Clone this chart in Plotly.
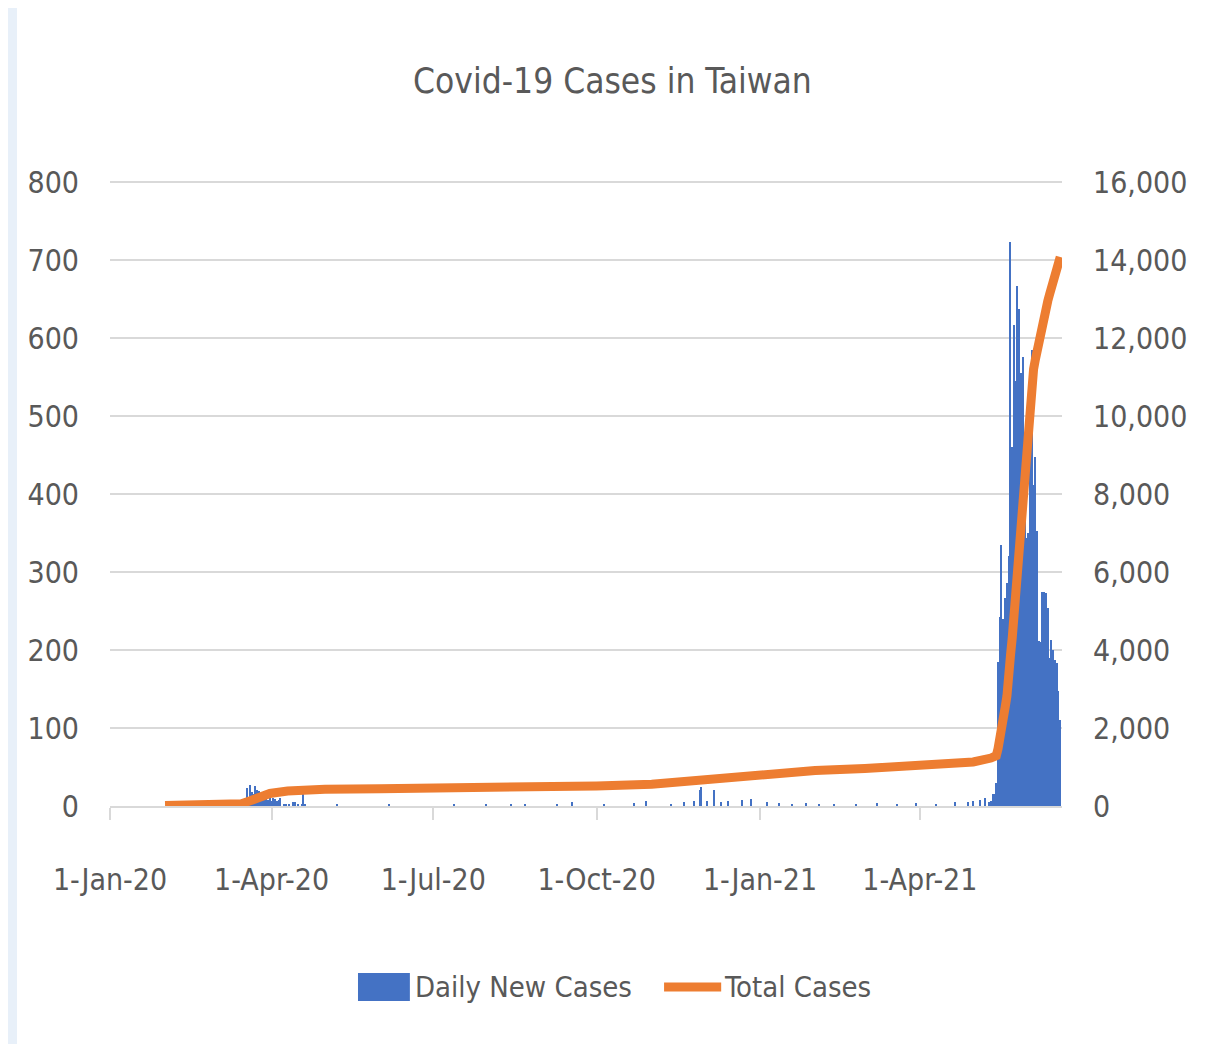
import plotly.graph_objects as go

# Daily new cases (sparse: days with no visible bar are left out)
daily_dates = [
    '2020-02-06', '2020-02-09', '2020-02-16', '2020-02-20', '2020-02-28', '2020-03-02', '2020-03-09',
    '2020-03-13', '2020-03-14', '2020-03-15', '2020-03-16', '2020-03-17', '2020-03-18', '2020-03-19',
    '2020-03-20', '2020-03-21', '2020-03-22', '2020-03-23', '2020-03-24', '2020-03-25', '2020-03-26',
    '2020-03-27', '2020-03-28', '2020-03-29', '2020-03-30', '2020-03-31', '2020-04-01', '2020-04-02',
    '2020-04-03', '2020-04-04', '2020-04-05', '2020-04-06', '2020-04-08', '2020-04-09', '2020-04-11',
    '2020-04-13', '2020-04-14', '2020-04-16', '2020-04-18', '2020-04-19', '2020-04-20', '2020-05-08',
    '2020-06-06', '2020-07-13', '2020-07-31', '2020-08-14', '2020-08-22', '2020-09-09', '2020-09-17',
    '2020-10-05', '2020-10-22', '2020-10-29', '2020-11-12', '2020-11-19', '2020-11-25', '2020-11-28',
    '2020-11-29', '2020-12-02', '2020-12-06', '2020-12-10', '2020-12-14', '2020-12-22', '2020-12-27',
    '2021-01-05', '2021-01-12', '2021-01-19', '2021-01-27', '2021-02-03', '2021-02-12', '2021-02-24',
    '2021-03-08', '2021-03-19', '2021-03-30', '2021-04-10', '2021-04-21', '2021-04-28', '2021-05-01',
    '2021-05-05', '2021-05-08', '2021-05-10', '2021-05-11', '2021-05-12', '2021-05-13', '2021-05-14',
    '2021-05-15', '2021-05-16', '2021-05-17', '2021-05-18', '2021-05-19', '2021-05-20', '2021-05-21',
    '2021-05-22', '2021-05-23', '2021-05-24', '2021-05-25', '2021-05-26', '2021-05-27', '2021-05-28',
    '2021-05-29', '2021-05-30', '2021-05-31', '2021-06-01', '2021-06-02', '2021-06-03', '2021-06-04',
    '2021-06-05', '2021-06-06', '2021-06-07', '2021-06-08', '2021-06-09', '2021-06-10', '2021-06-11',
    '2021-06-12', '2021-06-13', '2021-06-14', '2021-06-15', '2021-06-16', '2021-06-17', '2021-06-18',
    '2021-06-19',
]
daily_new = [
    5, 1, 2, 2, 2, 1, 2,
    3, 3, 6, 8, 10, 23, 8,
    27, 18, 16, 26, 20, 19, 17,
    15, 15, 15, 8, 16, 7, 10,
    9, 7, 8, 10, 3, 3, 3,
    5, 5, 3, 3, 22, 2, 2,
    2, 2, 3, 2, 2, 2, 5,
    3, 4, 6, 3, 5, 7, 20,
    24, 6, 21, 5, 7, 8, 9,
    5, 4, 3, 4, 3, 2, 3,
    4, 3, 4, 3, 5, 5, 6,
    8, 10, 5, 7, 16, 16, 29,
    185, 242, 335, 240, 267, 286, 321,
    723, 460, 617, 545, 667, 637, 555,
    576, 454, 343, 350, 472, 585, 411,
    448, 353, 212, 210, 274, 275, 273,
    254, 190, 213, 200, 187, 183, 147,
    110,
]

# Cumulative total cases
total_dates = [
    '2020-02-01', '2020-02-15', '2020-03-01', '2020-03-15', '2020-03-20', '2020-03-25', '2020-03-31',
    '2020-04-10', '2020-04-20', '2020-05-01', '2020-06-01', '2020-07-01', '2020-08-01', '2020-09-01',
    '2020-10-01', '2020-11-01', '2020-12-01', '2021-01-01', '2021-02-01', '2021-03-01', '2021-04-01',
    '2021-05-01', '2021-05-11', '2021-05-14', '2021-05-15', '2021-05-16', '2021-05-17', '2021-05-18',
    '2021-05-19', '2021-05-20', '2021-05-21', '2021-05-22', '2021-05-23', '2021-05-24', '2021-05-25',
    '2021-05-26', '2021-05-27', '2021-05-28', '2021-05-29', '2021-05-30', '2021-05-31', '2021-06-01',
    '2021-06-02', '2021-06-03', '2021-06-04', '2021-06-05', '2021-06-06', '2021-06-07', '2021-06-08',
    '2021-06-09', '2021-06-10', '2021-06-11', '2021-06-12', '2021-06-13', '2021-06-14', '2021-06-15',
    '2021-06-16', '2021-06-17', '2021-06-18', '2021-06-19',
]
total_cases = [
    10, 20, 40, 59, 135, 235, 322,
    382, 422, 429, 443, 449, 476, 488,
    514, 560, 680, 800, 910, 960, 1030,
    1130, 1230, 1290, 1475, 1680, 2020, 2260,
    2530, 2820, 3140, 3860, 4320, 4920, 5460,
    6090, 6760, 7320, 8100, 8800, 9500, 10000,
    10450, 10900, 11200, 11450, 11700, 11950, 12150,
    12350, 12550, 12750, 12950, 13120, 13300, 13480,
    13650, 13800, 13950, 14075,
]

tick_dates = ['2020-01-01', '2020-04-01', '2020-07-01', '2020-10-01', '2021-01-01', '2021-04-01']

FONT = 'DejaVu Sans Condensed, Liberation Sans Narrow, sans-serif'
TXT = '#595959'
GRID = '#d9d9d9'
BLUE = '#4472c4'
ORANGE = '#ed7d31'

fig = go.Figure()
fig.add_trace(go.Bar(
    x=daily_dates, y=daily_new, name='Daily New Cases',
    marker=dict(color=BLUE, line=dict(width=0)),
    width=86400000 * 0.75,
))
fig.add_trace(go.Scatter(
    x=total_dates, y=total_cases, name='Total Cases', yaxis='y2',
    mode='lines', line=dict(color=ORANGE, width=9),
))

# legend drawn by hand (big Excel-style swatches)
legend_shapes = [
    dict(type='rect', xref='paper', yref='paper', x0=0.2605, x1=0.315, y0=-0.3125, y1=-0.2676,
         fillcolor=BLUE, line=dict(width=0)),
    dict(type='line', xref='paper', yref='paper', x0=0.582, x1=0.642, y0=-0.290, y1=-0.290,
         line=dict(color=ORANGE, width=9)),
]
legend_text = [
    dict(text='Daily New Cases', xref='paper', yref='paper', x=0.318, y=-0.290,
         xanchor='left', yanchor='middle', showarrow=False, font=dict(size=29, color=TXT)),
    dict(text='Total Cases', xref='paper', yref='paper', x=0.643, y=-0.290,
         xanchor='left', yanchor='middle', showarrow=False, font=dict(size=29, color=TXT)),
]

# plotly drops the gridline sitting on the top edge, so draw it
top_grid = dict(type='line', xref='paper', yref='paper', layer='below',
                x0=0, x1=1, y0=1, y1=1, line=dict(color=GRID, width=2))

# page has an 8px body margin: plot area 102..1054 x 174..798 in figure pixels
fig.update_layout(
    width=1197, height=1036,
    margin=dict(l=102, r=143, t=174, b=238),
    paper_bgcolor='#e8f0f9', plot_bgcolor='white',
    font=dict(family=FONT, color=TXT, size=30),
    title=dict(text='Covid-19 Cases in Taiwan', x=0.505, xanchor='center',
               y=0.93, yanchor='middle', font=dict(size=35, color=TXT)),
    showlegend=False,
    bargap=0,
    xaxis=dict(
        type='date', range=['2020-01-01', '2021-06-20'],
        tickvals=tick_dates, tickformat='%-d-%b-%y',
        showgrid=False, showline=True, linecolor=GRID, linewidth=2,
        ticks='outside', ticklen=12, tickcolor=GRID, tickwidth=2,
        ticklabelstandoff=34, zeroline=False,
    ),
    yaxis=dict(
        range=[0, 800], dtick=100, showgrid=True, gridcolor=GRID, gridwidth=2,
        zeroline=False, showline=False, ticks='', ticklabelstandoff=30,
    ),
    yaxis2=dict(
        range=[0, 16000], dtick=2000, overlaying='y', side='right',
        tickformat=',', showgrid=False, zeroline=False, showline=False,
        ticks='', ticklabelstandoff=30,
    ),
    shapes=[dict(type='rect', xref='paper', yref='paper', layer='below',
                 x0=-0.0977, x1=1.146, y0=-0.42, y1=1.3,
                 fillcolor='white', line=dict(width=0)), top_grid] + legend_shapes,
    annotations=legend_text,
)

fig.write_html('out.html')
